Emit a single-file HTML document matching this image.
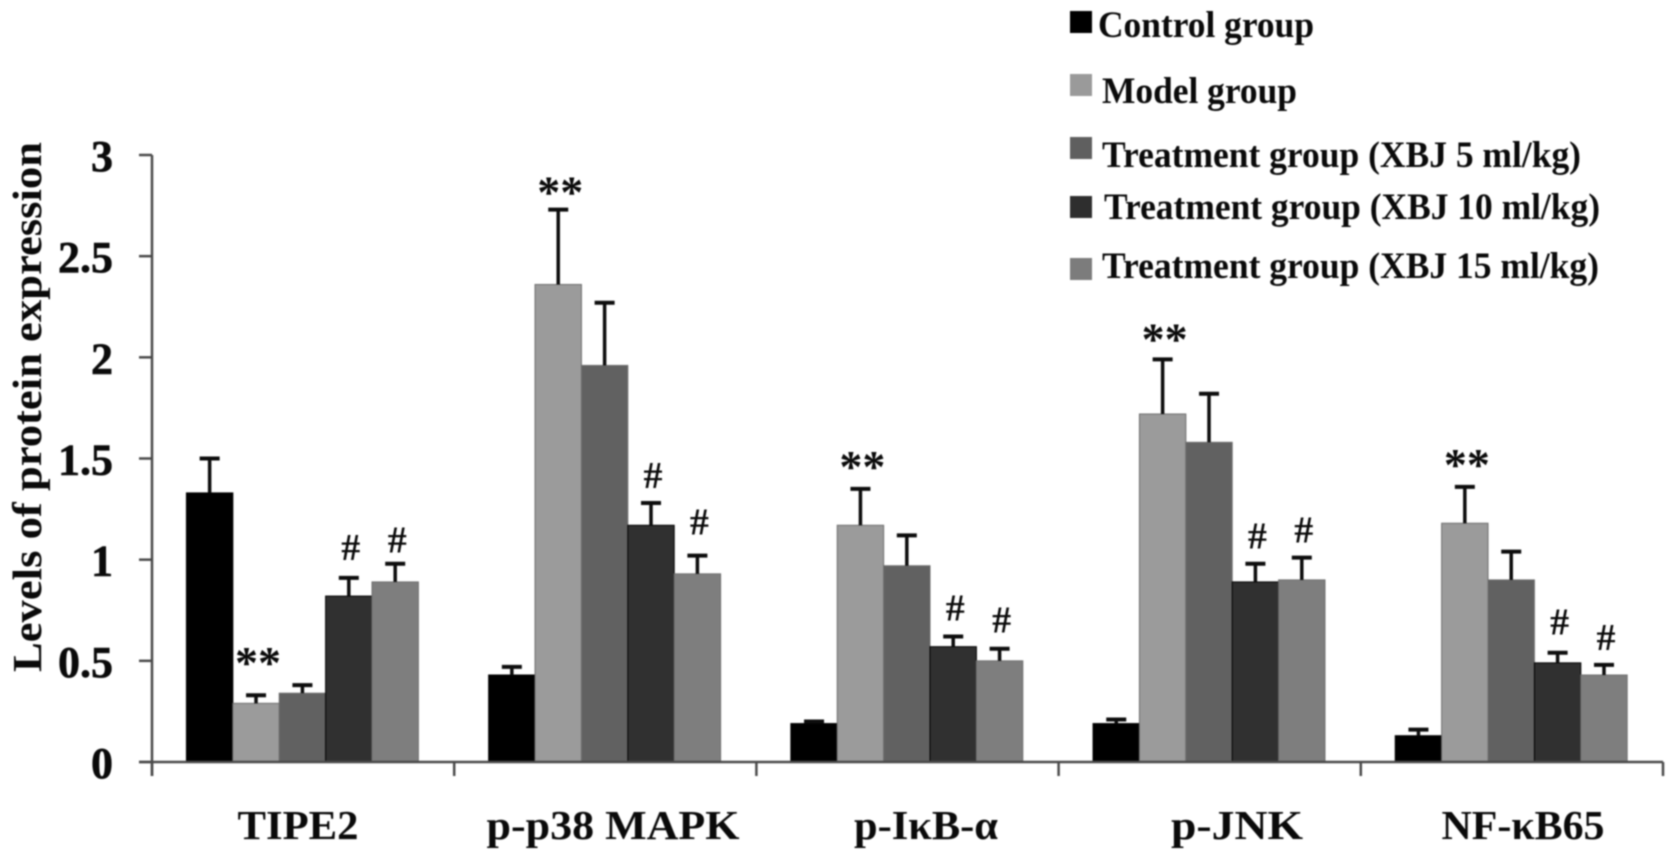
<!DOCTYPE html>
<html lang="en">
<head>
<meta charset="utf-8">
<title>Levels of protein expression</title>
<style>
html,body{margin:0;padding:0;background:#fff;width:1677px;height:862px;overflow:hidden}
svg{display:block;filter:blur(0.7px)}
text{font-family:"Liberation Serif","DejaVu Serif",serif;font-weight:bold;fill:#0a0a0a}
</style>
</head>
<body>
<svg id="chart" xmlns="http://www.w3.org/2000/svg" width="1677" height="862" viewBox="0 0 1677 862"></svg>
<script>
const categories = ['TIPE2', 'p-p38 MAPK', 'p-I\u03BAB-\u03B1', 'p-JNK', 'NF-\u03BAB65'];
const seriesNames = ['Control group', 'Model group', 'Treatment group (XBJ 5 ml/kg)', 'Treatment group (XBJ 10 ml/kg)', 'Treatment group (XBJ 15 ml/kg)'];
const controlValues = [1.33, 0.43, 0.19, 0.19, 0.13];
const modelValues = [0.29, 2.36, 1.17, 1.72, 1.18];
const xbj5Values = [0.34, 1.96, 0.97, 1.58, 0.90];
const xbj10Values = [0.82, 1.17, 0.57, 0.89, 0.49];
const xbj15Values = [0.89, 0.93, 0.50, 0.90, 0.43];
const controlErrorTops = [1.50, 0.47, 0.20, 0.21, 0.16];
const modelErrorTops = [0.33, 2.73, 1.35, 1.99, 1.36];
const xbj5ErrorTops = [0.38, 2.27, 1.12, 1.82, 1.04];
const xbj10ErrorTops = [0.91, 1.28, 0.62, 0.98, 0.54];
const xbj15ErrorTops = [0.98, 1.02, 0.56, 1.01, 0.48];
const significance = [
  ['', '', '', '', ''],
  ['**', '**', '**', '**', '**'],
  ['', '', '', '', ''],
  ['#', '#', '#', '#', '#'],
  ['#', '#', '#', '#', '#']
];
const yTicks = [0, 0.5, 1, 1.5, 2, 2.5, 3];
const yTickLabels = ['0', '0.5', '1', '1.5', '2', '2.5', '3'];

const allValues = [controlValues, modelValues, xbj5Values, xbj10Values, xbj15Values];
const allErrorTops = [controlErrorTops, modelErrorTops, xbj5ErrorTops, xbj10ErrorTops, xbj15ErrorTops];

const svg = document.getElementById('chart');
const NS = 'http://www.w3.org/2000/svg';
const plot = { left: 152, right: 1663, top: 155, bottom: 762, max: 3 };
const colors = ['#000000', '#9b9b9b', '#616161', '#303030', '#7e7e7e'];

function yScale(v) { return plot.bottom - (v / plot.max) * (plot.bottom - plot.top); }
function bandWidth() { return (plot.right - plot.left) / categories.length; }
function xBand(i) { return plot.left + i * bandWidth(); }
function barWidth() { return bandWidth() * 0.1535; }
function xBar(g, s) { return xBand(g) + bandWidth() * 0.114 + s * barWidth(); }

function make(tag, attrs, text) {
  const el = document.createElementNS(NS, tag);
  Object.keys(attrs).forEach(function (k) { el.setAttribute(k, attrs[k]); });
  if (text !== undefined) el.textContent = text;
  svg.appendChild(el);
  return el;
}

// bars
categories.forEach(function (cat, g) {
  allValues.forEach(function (vals, s) {
    const top = yScale(vals[g]);
    const bar = make('rect', { x: xBar(g, s), y: top, width: barWidth(), height: plot.bottom - top, fill: colors[s], stroke: s === 0 || s === 3 ? '#000' : '#6e6e6e', 'stroke-width': 1 });
    
    
  });
});

// error bars
categories.forEach(function (cat, g) {
  allErrorTops.forEach(function (tops, s) {
    const cx = xBar(g, s) + barWidth() / 2;
    const yTop = yScale(tops[g]);
    const yBase = yScale(allValues[s][g]);
    const stem = make('line', { x1: cx, x2: cx, y1: yBase, y2: yTop, stroke: '#0d0d0d', 'stroke-width': 3.5 });
    
    
    const cap = make('line', { x1: cx - 10, x2: cx + 10, y1: yTop, y2: yTop, stroke: '#0d0d0d', 'stroke-width': 4 });
    
    
  });
});

// significance markers (hand-placed above the error bars in the original)
const starLift = [16, 1, 6, 4, 6];
const hashLift = [[3, 0, 1, 0, 3], [-4, 6, 1, 0, 0]];
categories.forEach(function (cat, g) {
  significance.forEach(function (row, s) {
    const mark = row[g];
    if (!mark) return;
    const cx = xBar(g, s) + barWidth() / 2;
    const yTop = yScale(allErrorTops[s][g]);
    const isStar = mark === '**';
    const lift = isStar ? starLift[g] : hashLift[s - 3][g];
    const t = make('text', { x: cx + 2, y: yTop + (isStar ? -1 : -15) - lift, 'text-anchor': 'middle', 'font-size': isStar ? 46 : 38 }, mark);
    
    
  });
});

// axes
const yAxis = make('line', { x1: plot.left, x2: plot.left, y1: plot.top, y2: plot.bottom + 14, stroke: '#4a4a4a', 'stroke-width': 2.5 });


const xAxis = make('line', { x1: plot.left - 13, x2: plot.right, y1: plot.bottom, y2: plot.bottom, stroke: '#4a4a4a', 'stroke-width': 2.5 });



yTicks.forEach(function (v, i) {
  const y = yScale(v);
  const tick = make('line', { x1: plot.left - 13, x2: plot.left, y1: y, y2: y, stroke: '#4a4a4a', 'stroke-width': 2.5 });
  
  
  const label = make('text', { x: 113, y: y + 16, 'text-anchor': 'end', 'font-size': 44, stroke: '#0a0a0a', 'stroke-width': 0.6 }, yTickLabels[i]);
  
  
});

for (let i = 0; i <= categories.length; i++) {
  const tick = make('line', { x1: xBand(i), x2: xBand(i), y1: plot.bottom, y2: plot.bottom + 14, stroke: '#4a4a4a', 'stroke-width': 2.5 });
  
  
}

// category labels (hand-placed in the original figure)
const labelCentres = [298, 613, 926, 1237, 1523];
const labelWidths = [121, 253, 144, 132, 163];
categories.forEach(function (cat, i) {
  const label = make('text', { x: labelCentres[i], y: 839, 'text-anchor': 'middle', 'font-size': 41, textLength: labelWidths[i], lengthAdjust: 'spacingAndGlyphs' }, cat);
  
  
});

// y axis title
const yTitle = make('text', { transform: 'translate(41,407) rotate(-90)', 'text-anchor': 'middle', 'font-size': 41, textLength: 530, lengthAdjust: 'spacingAndGlyphs' }, 'Levels of protein expression');



// legend
const legendSwatchY = [22, 85, 148, 207, 269];
const legendTextX = [1098, 1102, 1102, 1104, 1102];
const legendBaseY = [37, 103, 167, 219, 278];
const legendWidths = [216, 195, 479, 496, 497];
const legendSwatchColors = ['#000000', '#9a9a9a', '#5f5f5f', '#2e2e2e', '#7c7c7c'];
seriesNames.forEach(function (name, i) {
  const sw = make('rect', { x: 1070, y: legendSwatchY[i] - 11, width: 22, height: 22, fill: legendSwatchColors[i] });
  
  
  const t = make('text', { x: legendTextX[i], y: legendBaseY[i], 'font-size': 37, textLength: legendWidths[i], lengthAdjust: 'spacingAndGlyphs' }, name);
  
  
});
</script>
</body>
</html>
